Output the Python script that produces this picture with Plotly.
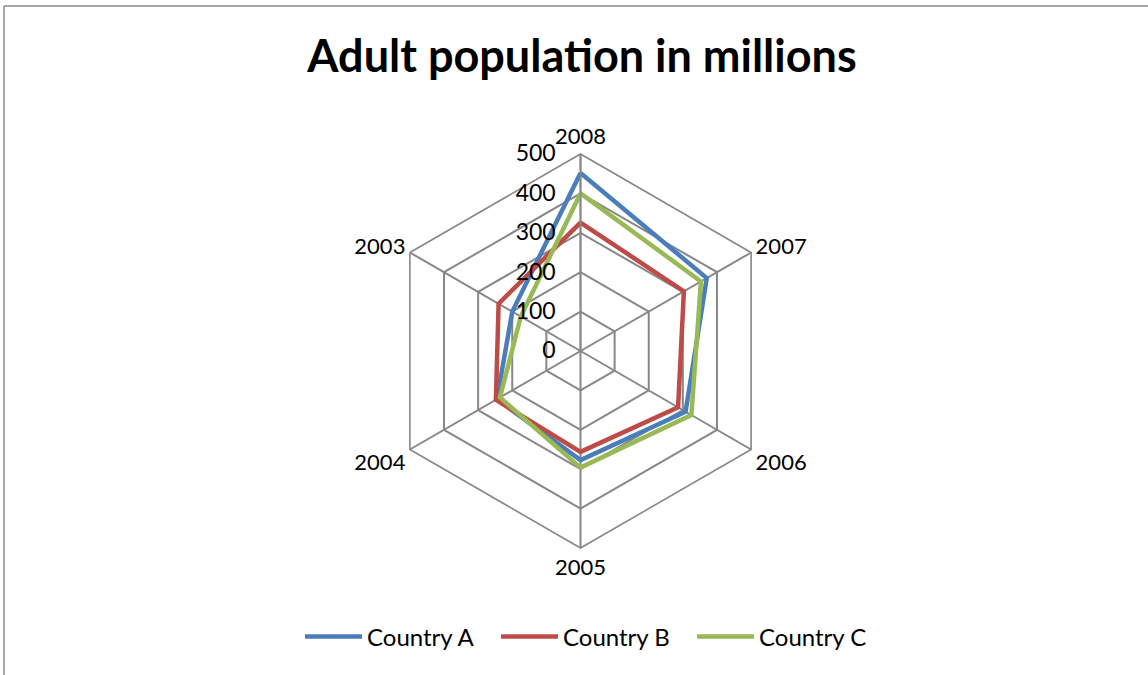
import plotly.graph_objects as go

years = ["2008", "2007", "2006", "2005", "2004", "2003"]
country_a = [452, 370, 308, 277, 245, 200]
country_b = [326, 303, 286, 256, 248, 240]
country_c = [400, 353, 325, 296, 236, 175]
series_names = ["Country A", "Country B", "Country C"]
colors = ["#4A7EBB", "#BE4B48", "#98B954"]
radial_ticks = [0, 100, 200, 300, 400, 500]

FONT = "Lato, Liberation Sans, sans-serif"

fig = go.Figure()
for name, vals, col in zip(series_names, [country_a, country_b, country_c], colors):
    fig.add_trace(go.Scatterpolar(
        r=vals + vals[:1],
        theta=years + years[:1],
        mode="lines",
        name=name,
        line=dict(color=col, width=4.5),
    ))

W, H = 1148, 675
cx, cy, R = 580.5, 351, 197

fig.update_layout(
    width=W, height=H,
    margin=dict(l=0, r=0, t=0, b=0),
    paper_bgcolor="white",
    plot_bgcolor="white",
    font=dict(family=FONT, color="black"),
    title=dict(text="<b>Adult population in millions</b>", x=0.507, xanchor="center",
               y=1 - 56 / H, yanchor="middle",
               font=dict(size=45, family=FONT, color="black")),
    polar=dict(
        domain=dict(x=[(cx - R) / W, (cx + R) / W], y=[1 - (cy + R) / H, 1 - (cy - R) / H]),
        bgcolor="white",
        gridshape="linear",
        angularaxis=dict(
            categoryarray=years, categoryorder="array",
            direction="clockwise", rotation=90,
            showline=True, linecolor="#878787", linewidth=1.6,
            gridcolor="#878787", gridwidth=1.6,
            ticks="", tickfont=dict(size=22, family=FONT, color="black"),
        ),
        radialaxis=dict(
            range=[0, 500], tickvals=radial_ticks,
            angle=90, tickangle=90, side="counterclockwise",
            showline=True, linecolor="#878787", linewidth=1.6,
            gridcolor="#878787", gridwidth=1.6,
            ticks="outside", ticklen=16, tickcolor="rgba(0,0,0,0)",
            tickfont=dict(size=23, family=FONT, color="black"),
        ),
    ),
    legend=dict(orientation="h", x=300 / W, xanchor="left", y=1 - 637 / H, yanchor="middle",
                font=dict(size=24, family=FONT, color="black"), itemwidth=57,
                entrywidth=124, entrywidthmode="pixels"),
    shapes=[
        dict(type="line", xref="paper", yref="paper", x0=4 / W, x1=4 / W, y0=0, y1=1 - 6 / H,
             line=dict(color="#888888", width=1.5)),
        dict(type="line", xref="paper", yref="paper", x0=4 / W, x1=1, y0=1 - 6 / H, y1=1 - 6 / H,
             line=dict(color="#888888", width=1.5)),
    ],
)

fig.write_html("out.html")
